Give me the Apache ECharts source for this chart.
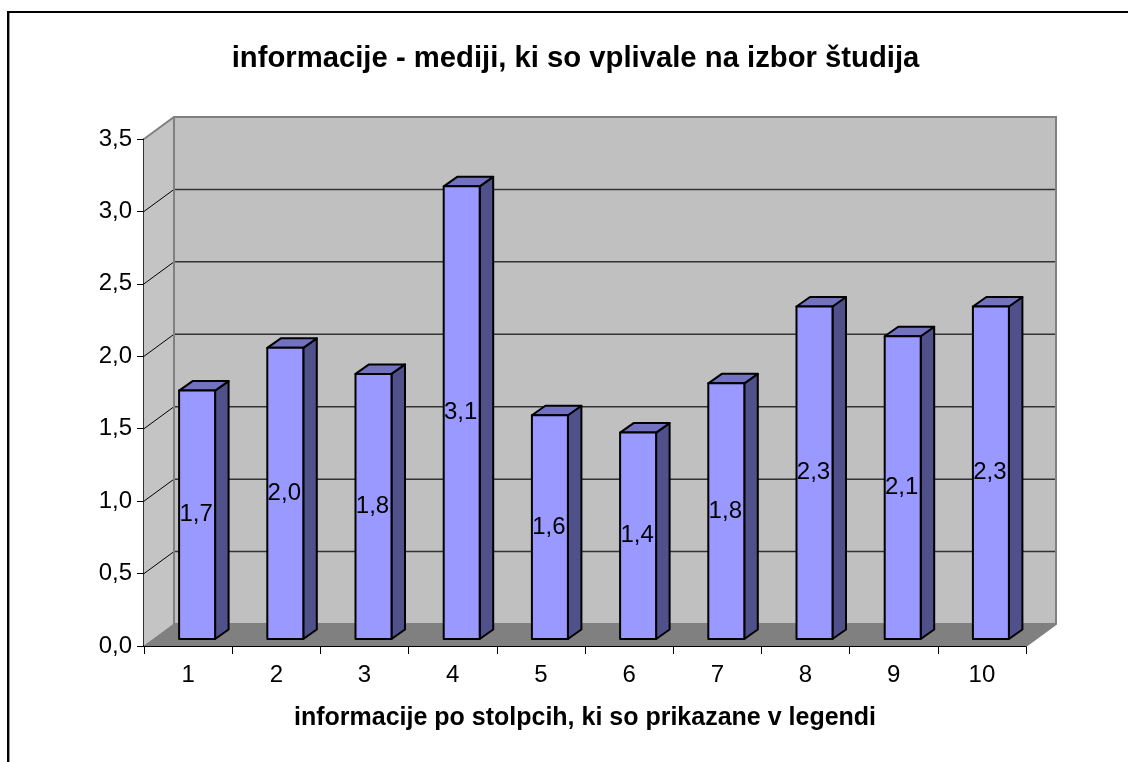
<!DOCTYPE html>
<html>
<head>
<meta charset="utf-8">
<style>html,body{margin:0;padding:0;background:#fff}#c{width:1128px;height:762px}</style>
<script src="https://cdn.jsdelivr.net/npm/echarts@6/dist/echarts.min.js"></script>
</head>
<body>
<div id="c"></div>
<script>
const categories = ['1','2','3','4','5','6','7','8','9','10'];
const values = [1.715,2.01,1.83,3.125,1.545,1.425,1.765,2.295,2.09,2.295];
const valueLabels = ['1,7','2,0','1,8','3,1','1,6','1,4','1,8','2,3','2,1','2,3'];
const yTicks = [0,0.5,1,1.5,2,2.5,3,3.5];

const titleText = 'informacije - mediji, ki so vplivale na izbor študija';
const xTitleText = 'informacije po stolpcih, ki so prikazane v legendi';
const FONT = '"Liberation Sans", Arial, sans-serif';
const DX = 30, DY = -22;          // wall depth
const BAR_OFF_X = 9, BAR_OFF_Y = -7; // bar front offset from front plane
const BAR_DX = 13.5, BAR_DY = -9.5;  // bar depth
const BAR_W = 36;

const chart = echarts.init(document.getElementById('c'), null, {renderer:'canvas'});

function wallsRender(params, api){
  const cs = params.coordSys;
  const L = cs.x, R = cs.x + cs.width;
  const bot = api.coord([0,0])[1], top = api.coord([0,3.5])[1];
  const ch = [];
  ch.push({type:'polygon',shape:{points:[[L,bot],[L+DX,bot+DY],[L+DX,top+DY],[L,top]]},
    style:{fill:'#c4c4c4',stroke:null}});
  ch.push({type:'rect',shape:{x:L+DX,y:top+DY,width:R-L,height:bot-top},
    style:{fill:'#c0c0c0',stroke:null}});
  ch.push({type:'polygon',shape:{points:[[L,bot],[L+DX,bot+DY],[R+DX,bot+DY],[R,bot]]},
    style:{fill:'#808080',stroke:null}});
  yTicks.forEach(t=>{
    if(t===0||t===3.5) return;
    const y = api.coord([0,t])[1];
    ch.push({type:'polyline',shape:{points:[[L,y],[L+DX,y+DY]]},
      style:{fill:null,stroke:'#000',lineWidth:1}});
    ch.push({type:'line',shape:{x1:L+DX,y1:y+DY,x2:R+DX,y2:y+DY},
      style:{stroke:'#333',lineWidth:1.5}});
  });
  ch.push({type:'polyline',shape:{points:[[L,top],[L+DX,top+DY],[R+DX,top+DY],[R+DX,bot+DY],[R,bot]]},
    style:{fill:null,stroke:'#808080',lineWidth:2}});
  ch.push({type:'polyline',shape:{points:[[L+DX,top+DY],[L+DX,bot+DY],[R+DX,bot+DY]]},
    style:{fill:null,stroke:'#808080',lineWidth:2}});
  ch.push({type:'line',shape:{x1:L,y1:bot,x2:L+DX,y2:bot+DY},style:{stroke:'#808080',lineWidth:1}});
  return {type:'group',children:ch};
}

function barRender(params, api){
  const i = api.value(0), v = api.value(1);
  const c = api.coord([i,v]), z = api.coord([i,0]);
  const x0 = c[0] + BAR_OFF_X - BAR_W/2, x1 = x0 + BAR_W;
  const yT = c[1] + BAR_OFF_Y, yB = z[1] + BAR_OFF_Y;
  const stroke = {stroke:'#000',lineWidth:2,lineJoin:'round'};
  return {type:'group',children:[
    {type:'polygon',shape:{points:[[x1,yT],[x1+BAR_DX,yT+BAR_DY],[x1+BAR_DX,yB+BAR_DY],[x1,yB]]},
      style:Object.assign({fill:'#50508a'},stroke)},
    {type:'polygon',shape:{points:[[x0,yT],[x0+BAR_DX,yT+BAR_DY],[x1+BAR_DX,yT+BAR_DY],[x1,yT]]},
      style:Object.assign({fill:'#7272c0'},stroke)},
    {type:'rect',shape:{x:x0,y:yT,width:BAR_W,height:yB-yT},
      style:Object.assign({fill:'#9999ff'},stroke)},
    {type:'text',x:(x0+x1)/2-1,y:(yT+yB)/2,
      style:{text:valueLabels[params.dataIndex],font:'24px '+FONT,fill:'#000',align:'center',verticalAlign:'middle'}}
  ]};
}

chart.setOption({
  animation:false,
  backgroundColor:'#fff',
  title:{text:titleText,left:570.5,top:39,textAlign:'center',
    textStyle:{fontFamily:FONT,fontWeight:'bold',fontSize:29.25,color:'#000'}},
  grid:{left:144,top:139,width:882,height:507,containLabel:false},
  xAxis:{type:'category',data:categories,boundaryGap:true,
    name:xTitleText,nameLocation:'middle',nameGap:60,
    nameTextStyle:{fontFamily:FONT,fontWeight:'bold',fontSize:25,color:'#000'},
    axisLine:{show:true,lineStyle:{color:'#000',width:2}},
    axisTick:{show:true,alignWithLabel:false,length:8,lineStyle:{color:'#000',width:1}},
    axisLabel:{fontFamily:FONT,fontSize:24,color:'#000',margin:17},
    splitLine:{show:false}},
  yAxis:{type:'value',min:0,max:3.5,interval:0.5,
    axisLine:{show:true,lineStyle:{color:'#333',width:2}},
    axisTick:{show:true,length:7,lineStyle:{color:'#000',width:1}},
    axisLabel:{fontFamily:FONT,fontSize:24,color:'#000',margin:12,
      formatter:v=>v.toFixed(1).replace('.',',')},
    splitLine:{show:false}},
  graphic:[
    {type:'polyline',silent:true,z:-1,
     shape:{points:[[8,772],[8,12],[1138,12]]},
     style:{fill:null,stroke:'#000',lineWidth:2}},
    {type:'line',silent:true,z:-1,
     shape:{x1:9.5,y1:13,x2:9.5,y2:772},
     style:{stroke:'#999',lineWidth:1}}
  ],
  series:[
    {type:'custom',z:1,coordinateSystem:'cartesian2d',renderItem:wallsRender,
      data:[[0,0]],silent:true,clip:false,encode:{x:0,y:1}},
    {type:'custom',z:2,coordinateSystem:'cartesian2d',renderItem:barRender,clip:false,
      data:values.map((v,i)=>[i,v]),encode:{x:0,y:1}}
  ]
});
</script>
</body>
</html>
